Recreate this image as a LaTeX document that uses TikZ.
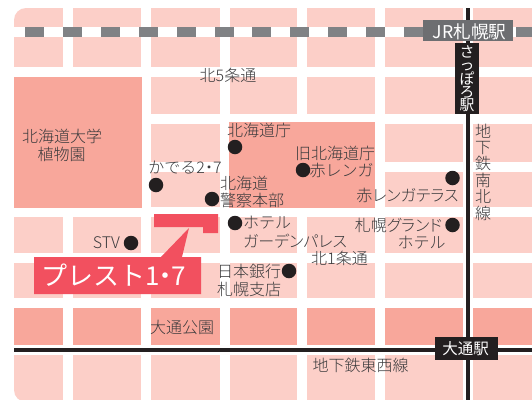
\documentclass[tikz,border=0pt]{standalone}
\usepackage{fontspec}
\setmainfont{Noto Sans CJK JP Light}
\newfontfamily\boldish{Noto Sans CJK JP}
\newfontfamily\tightf[RawFeature=+palt]{Noto Sans CJK JP Light}
\definecolor{lightblk}{HTML}{FCCFC8}
\definecolor{darkblk}{HTML}{F8A79B}
\definecolor{railgray}{HTML}{808285}
\definecolor{jrgray}{HTML}{6D6E71}
\definecolor{ink}{HTML}{231F20}
\definecolor{txt}{HTML}{3A3A3C}
\definecolor{accent}{HTML}{F2505F}
\tikzset{
  lbl/.style={inner sep=0pt,text=txt,font=\fontsize{16}{16}\selectfont},
  tlbl/.style={inner sep=0pt,text=txt,font=\tightf\fontsize{16}{16}\selectfont},
  wlbl/.style={inner sep=0pt,text=white,font=\boldish\fontsize{15.5}{16}\selectfont},
  spot/.style={circle,fill=ink,inner sep=0pt,minimum size=14.5pt},
}
\begin{document}
\begin{tikzpicture}[x=1pt,y=-1pt]
\path[use as bounding box,fill=white] (0,0) rectangle (532,399);
\begin{scope}
\clip[rounded corners=12pt] (14,8) rectangle (544,402);
% ordinary blocks
\foreach \xa/\xb in {14/63,73/141,151/220,230/297,307/375,385/463,473/540}{
  \foreach \ya/\yb in {8/67,77/114,217/253,263/298,355/410}{
    \fill[lightblk] (\xa,\ya) rectangle (\xb,\yb);
  }
  \fill[darkblk] (\xa,308) rectangle (\xb,345);
}
\foreach \xa/\xb in {151/220,385/463,473/540}{
  \fill[lightblk] (\xa,124) rectangle (\xb,162);
  \fill[lightblk] (\xa,172) rectangle (\xb,207);
}
% large dark blocks
\fill[darkblk] (14,77) rectangle (142,208);
\fill[darkblk] (229,122) rectangle (375,208);
% JR rail
\fill[white] (14,27) rectangle (540,37);
\foreach \x in {25,63,101,139,177,215,252,290,328,366,404,516}{
  \fill[railgray] (\x,27) rectangle ++(19,10);
}
% subway lines
\fill[white] (463,8) rectangle (473,410);
\fill[ink] (466,8) rectangle (470,410);
\fill[ink] (14,348) rectangle (540,352);
\end{scope}
% station plates
\node[fill=jrgray,minimum width=90pt,minimum height=21pt,inner sep=0pt] (jr) at (468,30.5) {};
\node[wlbl,font=\boldish\fontsize{17.6}{18}\selectfont] (jrt) at (469.5,31.5) {JR札幌駅};
\node[fill=ink,minimum width=24pt,minimum height=71pt,inner sep=0pt] (sp) at (467,78.5) {};
\node[wlbl,align=center,font=\boldish\fontsize{14.8}{12.6}\selectfont] (spt) at (467,79) {さ\\っ\\ぽ\\ろ\\駅};
\node[fill=ink,minimum width=63pt,minimum height=23pt,inner sep=0pt] (od) at (466.5,348.5) {};
\node[wlbl] (odt) at (465.5,349) {大通駅};
% highlighted building and callout
\fill[accent] (154,214) -- (218,214) -- (218,233) -- (203,233) -- (203,227) -- (154,227) -- cycle;
\fill[accent] (34,257) -- (161,257) -- (189,228) -- (182,257) -- (201,257) -- (201,294) -- (34,294) -- cycle;
\node[wlbl,font=\boldish\fontsize{26}{26}\selectfont] (pl) at (113.5,275) {プレスト1\kern-7pt・\kern-7pt 7};
% spots
\node[spot] (d1) at (235,147) {};
\node[spot] (d2) at (156,185) {};
\node[spot] (d3) at (212,199) {};
\node[spot] (d4) at (235,223) {};
\node[spot] (d5) at (131,243) {};
\node[spot] (d6) at (289,271) {};
\node[spot] (d7) at (303,170) {};
\node[spot] (d8) at (452.5,178) {};
\node[spot] (d9) at (452.5,225) {};
% labels
\node[lbl] (t1) at (228,75) {北5条通};
\node[lbl] (t2) at (62,136) {北海道大学};
\node[lbl] (t3) at (61.5,154) {植物園};
\node[lbl] (t4) at (185,168) {かでる2\kern-4pt・\kern-4pt 7};
\node[lbl] (t5) at (259,130) {北海道庁};
\node[lbl] (t6) at (335,153) {旧北海道庁};
\node[lbl] (t7) at (341.5,170) {赤レンガ};
\node[lbl,anchor=west] (t8) at (220,183) {北海道};
\node[lbl,anchor=west] (t9) at (220,200) {警察本部};
\node[tlbl] (t10) at (407.5,195) {赤レンガテラス};
\node[lbl,anchor=west] (t11) at (243,223) {ホテル};
\node[tlbl,anchor=west] (t12) at (243,241) {ガーデンパレス};
\node[tlbl] (t13) at (398.5,225) {札幌グランド};
\node[lbl] (t14) at (421.5,243) {ホテル};
\node[lbl] (t15) at (339.5,258) {北1条通};
\node[lbl] (t16) at (106.5,243) {STV};
\node[lbl] (t17) at (249,271) {日本銀行};
\node[lbl] (t18) at (249,289) {札幌支店};
\node[lbl] (t19) at (182,327) {大通公園};
\node[lbl] (t20) at (360.5,365) {地下鉄東西線};
\node[lbl,align=center,font=\fontsize{16}{16.4}\selectfont] (v) at (483,172) {地\\下\\鉄\\南\\北\\線};
\end{tikzpicture}
\end{document}
